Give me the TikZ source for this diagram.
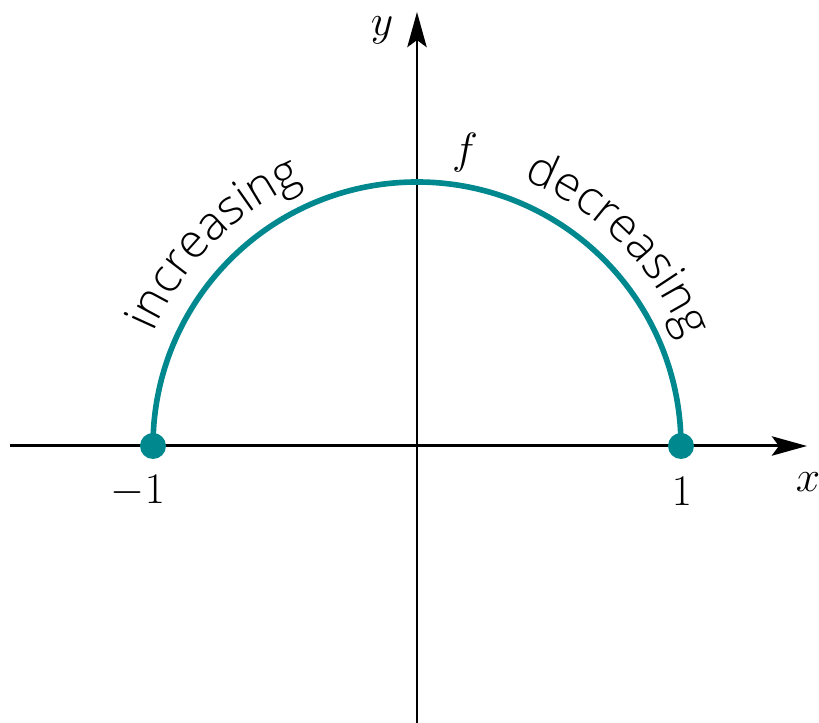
\documentclass[tikz,border=0pt]{standalone}
\usepackage{fontspec}
\newfontfamily\arcfont{Open Sans Light}
\usetikzlibrary{arrows.meta,decorations.text}
\definecolor{curveteal}{RGB}{0,136,143}

\begin{document}
\begin{tikzpicture}[
        x=.2mm, y=.2mm,
        axis/.style={line width=1.7pt, -{Stealth[length=20pt, width=11pt, inset=4pt]}},
        curve/.style={line width=3.2pt, draw=curveteal},
        endpt/.style={circle, fill=curveteal, inner sep=0pt, minimum size=5.2mm},
        lbl/.style={font=\fontsize{31}{36}\selectfont},
        along/.style={decorate, decoration={text along path, text align=center,
            text={|\arcfont\fontsize{27}{30}\selectfont|#1}}},
    ]
    \useasboundingbox (-417,-277) rectangle (402,446);

    %% the axes
    \coordinate (xl) at (-407,0);
    \coordinate (xr) at (390,0);
    \coordinate (yb) at (0,-277);
    \coordinate (yt) at (0,434);
    \draw[axis] (xl) -- (xr);
    \draw[axis] (yb) -- (yt);
    \node[lbl] (xlab) at (391,-36) {$x$};
    \node[lbl] (ylab) at (-35,416) {$y$};

    %% the upper half of the unit circle
    \node[endpt] (left) at (-264,0) {};
    \node[endpt] (right) at (264,0) {};
    \draw[curve] (left.center) arc[start angle=180, end angle=0, radius=264];
    \node[lbl] (fl) at (48,293) {$f$};
    \node[lbl] (mone) at (-279,-45) {$-1$};
    \node[lbl] (one) at (265,-45) {$1$};

    %% where it rises and falls
    \path[along=increasing] (165:287) arc[start angle=165, end angle=105, radius=287];
    \path[along=decreasing] (75:287) arc[start angle=75, end angle=15, radius=287];
\end{tikzpicture}
\end{document}
